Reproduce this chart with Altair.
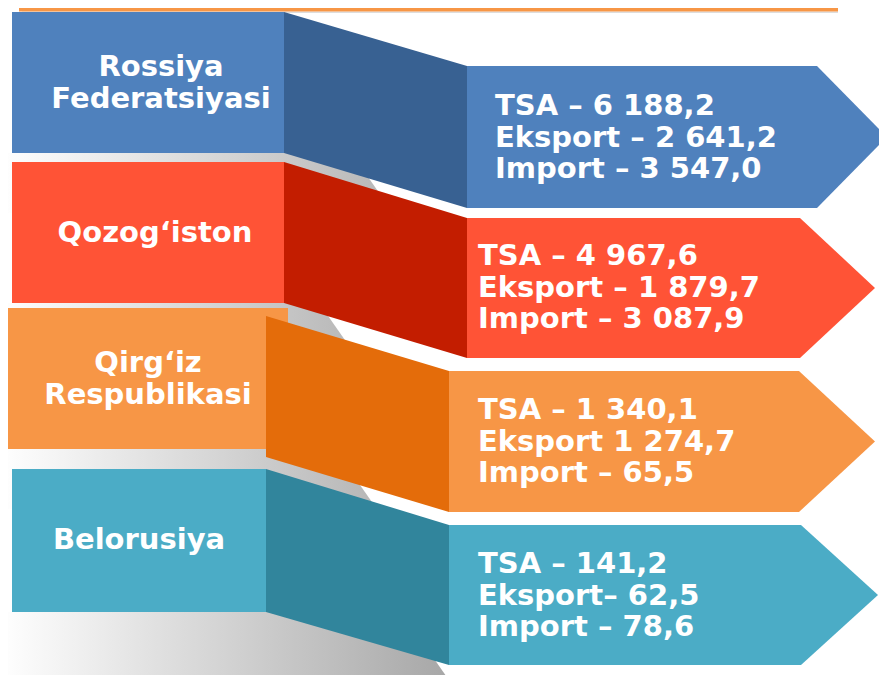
import altair as alt
import pandas as pd

# ---------------- data ----------------
countries = ["Rossiya\nFederatsiyasi", "Qozog‘iston", "Qirg‘iz\nRespublikasi", "Belorusiya"]
tsa = [6188.2, 4967.6, 1340.1, 141.2]
eksport = [2641.2, 1879.7, 1274.7, 62.5]
importv = [3547.0, 3087.9, 65.5, 78.6]
eksport_sep = [" – ", " – ", " ", "– "]

# ---------------- styles ----------------
light = ["#4F81BD", "#FF5336", "#F79646", "#4BACC6"]
dark = ["#386192", "#C31D00", "#E46C0A", "#31859C"]
FONT = "DejaVu Sans"

# ---------------- layout (canvas pixels) ----------------
box_left = [12, 12, 7, 12]
box_right = [284, 284, 288, 266]
box_top = [12, 162, 308, 469]
box_bottom = [153, 303, 449, 612]
link_left = [284, 284, 266, 266]
link_top = [12, 162, 316, 469]
link_bottom = [153, 303, 457, 612]
arrow_left = [467, 467, 449, 449]
arrow_top = [66, 218, 371, 525]
arrow_bottom = [208, 358, 512, 665]
arrow_body = [817, 800, 799, 801]
arrow_tip = [887, 875, 875, 878]
shadow_edge_x = [375, 333, 360, 437]
shadow_edge_y = [187, 323, 485, 663]
shadow_slope = 0.7
shadow_depth = [60, 60, 60, 90]
label_x = [161, 155, 148, 139]
label_y = [76, 242, 372, 549]
label_step = 32
info_x = [495, 478, 478, 478]
info_y = [115, 265, 419, 573]
info_step = 31.5
topline = dict(x=19, x2=838, y=8, y2=11.5)
topline_shadow = dict(x=22, x2=838, y=11.5, y2=13)


def fmt(v):
    return f"{v:,.1f}".replace(",", " ").replace(".", ",")


n = len(countries)
boxes = pd.DataFrame({"x": box_left, "x2": box_right, "y": box_top, "y2": box_bottom, "fill": light})

link_rows, arrow_rows, shadow_rows = [], [], []
for i in range(n):
    link_rows.append(dict(band=i, x=link_left[i], y=link_top[i], y2=link_bottom[i], fill=dark[i]))
    link_rows.append(dict(band=i, x=arrow_left[i], y=arrow_top[i], y2=arrow_bottom[i], fill=dark[i]))
    mid = (arrow_top[i] + arrow_bottom[i]) / 2
    arrow_rows.append(dict(band=i, x=arrow_left[i], y=arrow_top[i], y2=arrow_bottom[i], fill=light[i]))
    arrow_rows.append(dict(band=i, x=arrow_body[i], y=arrow_top[i], y2=arrow_bottom[i], fill=light[i]))
    arrow_rows.append(dict(band=i, x=arrow_tip[i], y=mid, y2=mid, fill=light[i]))
    rb = box_bottom[i]
    low = rb + shadow_depth[i]
    xa = shadow_edge_x[i] - (shadow_edge_y[i] - rb) * shadow_slope
    xb = shadow_edge_x[i] + (low - shadow_edge_y[i]) * shadow_slope
    shadow_rows.append(dict(band=i, x=0, y=rb, y2=low))
    shadow_rows.append(dict(band=i, x=xa, y=rb, y2=low))
    shadow_rows.append(dict(band=i, x=xb, y=low, y2=low))
links = pd.DataFrame(link_rows)
arrows = pd.DataFrame(arrow_rows)
shadows = pd.DataFrame(shadow_rows)

label_rows, info_rows = [], []
for i in range(n):
    for j, line in enumerate(countries[i].split("\n")):
        label_rows.append(dict(x=label_x[i], y=label_y[i] + j * label_step, text=line))
    lines = [f"TSA – {fmt(tsa[i])}", f"Eksport{eksport_sep[i]}{fmt(eksport[i])}", f"Import – {fmt(importv[i])}"]
    for j, line in enumerate(lines):
        info_rows.append(dict(x=info_x[i], y=info_y[i] + j * info_step, text=line))
labels = pd.DataFrame(label_rows)
infos = pd.DataFrame(info_rows)

xs = alt.Scale(domain=[8, 879], nice=False, zero=False)
ys = alt.Scale(domain=[8, 675], nice=False, zero=False, reverse=True)
X = lambda f="x": alt.X(f"{f}:Q", scale=xs, axis=None)
Y = lambda f="y": alt.Y(f"{f}:Q", scale=ys, axis=None)


def grad(end):
    return alt.Gradient(
        gradient="linear",
        stops=[alt.GradientStop(color="#FFFFFF", offset=0), alt.GradientStop(color=end, offset=1)],
        x1=0, x2=1, y1=0, y2=0,
    )


shadow_top = alt.Chart(shadows[shadows.band < 3]).mark_area(clip=True, opacity=1, color=grad("#B6B6B6")).encode(
    x=X(), y=Y(), y2="y2:Q", detail="band:N")
shadow_bottom = alt.Chart(shadows[shadows.band == 3]).mark_area(clip=True, opacity=1, color=grad("#A4A4A4")).encode(
    x=X(), y=Y(), y2="y2:Q", detail="band:N")

line_df = pd.DataFrame([topline_shadow, topline])
line_df["fill"] = ["#DDDDDD", "#F79646"]
top_line = alt.Chart(line_df).mark_rect(clip=True).encode(
    x=X(), x2="x2:Q", y=Y(), y2="y2:Q", fill=alt.Fill("fill:N", scale=None))

box_layer = alt.Chart(boxes).mark_rect(clip=True).encode(
    x=X(), x2="x2:Q", y=Y(), y2="y2:Q", fill=alt.Fill("fill:N", scale=None))

link_layer = alt.Chart(links).mark_area(clip=True, opacity=1).encode(
    x=X(), y=Y(), y2="y2:Q", detail="band:N", fill=alt.Fill("fill:N", scale=None))

arrow_layer = alt.Chart(arrows).mark_area(clip=True, opacity=1).encode(
    x=X(), y=Y(), y2="y2:Q", detail="band:N", fill=alt.Fill("fill:N", scale=None))

label_layer = alt.Chart(labels).mark_text(
    font=FONT, fontSize=29, fontWeight="bold", color="white", align="center", baseline="alphabetic"
).encode(x=X(), y=Y(), text="text:N")

info_layer = alt.Chart(infos).mark_text(
    font=FONT, fontSize=29, fontWeight="bold", color="white", align="left", baseline="alphabetic"
).encode(x=X(), y=Y(), text="text:N")

chart = alt.layer(
    shadow_top, shadow_bottom, top_line, box_layer, link_layer, arrow_layer, label_layer, info_layer
).properties(
    width=871, height=667, padding=0, background="white",
    autosize=alt.AutoSizeParams(type="none"),
).configure_view(stroke=None)

chart.save("out.html", embed_options={"renderer": "svg", "actions": False})
